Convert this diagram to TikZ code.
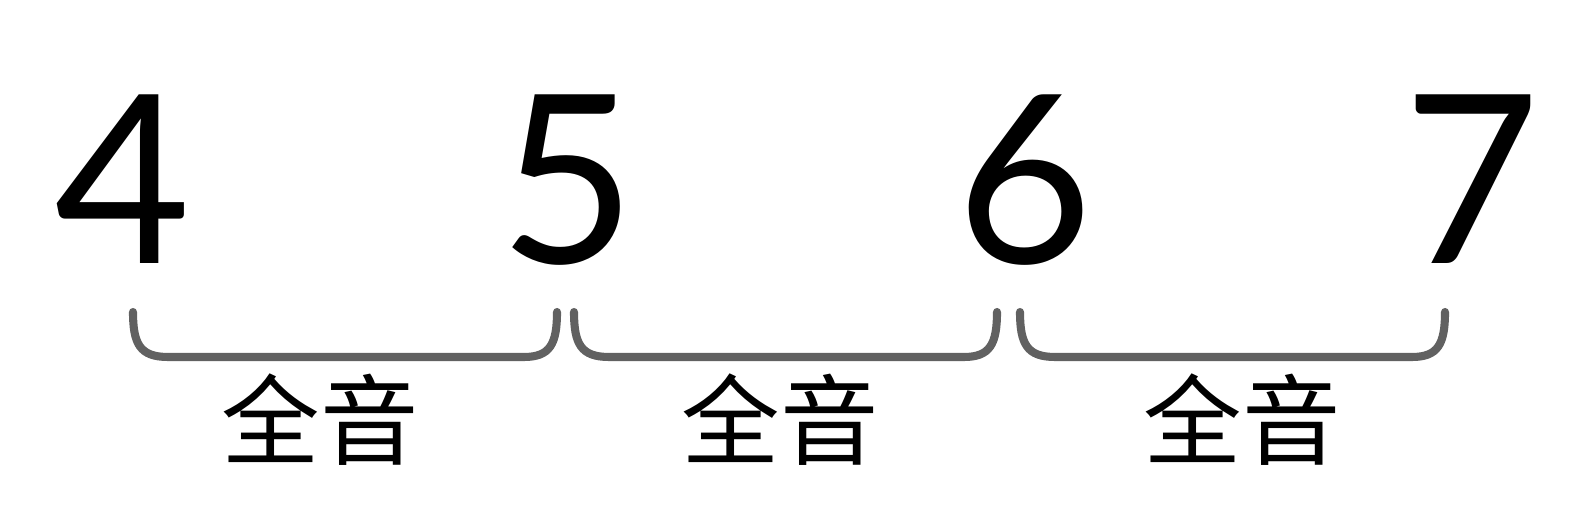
\documentclass[tikz,border=0pt]{standalone}
\usepackage{fontspec}
\newfontfamily\digitfont{Lato}
\newfontfamily\cjk{Noto Sans CJK SC}
\begin{document}
\begin{tikzpicture}[line cap=round,
  degree/.style={font=\digitfont\fontsize{67}{67}\selectfont,anchor=base,inner sep=0pt},
  interval/.style={draw=black!62,line width=2.3pt},
  step label/.style={font=\cjk\fontsize{28}{28}\selectfont,inner sep=0pt}]
\useasboundingbox (0,0) rectangle (15.79,5.26);

% scale degrees
\node [degree] (d4) at (1.23,2.62) {4};
\node [degree] (d5) at (5.68,2.62) {5};
\node [degree] (d6) at (10.25,2.62) {6};
\node [degree] (d7) at (14.72,2.62) {7};

% whole steps
\draw [interval] (1.33,2.14) .. controls (1.33,1.82) and (1.40,1.69) .. (1.68,1.69)
  -- (5.24,1.69) .. controls (5.50,1.69) and (5.57,1.82) .. (5.57,2.14);
\draw [interval] (5.74,2.14) .. controls (5.74,1.82) and (5.81,1.69) .. (6.09,1.69)
  -- (9.64,1.69) .. controls (9.90,1.69) and (9.97,1.82) .. (9.97,2.14);
\draw [interval] (10.20,2.14) .. controls (10.20,1.82) and (10.27,1.69) .. (10.55,1.69)
  -- (14.12,1.69) .. controls (14.38,1.69) and (14.45,1.82) .. (14.45,2.14);

\node [step label] (w45) at (3.20,1.06) {全音};
\node [step label] (w56) at (7.80,1.06) {全音};
\node [step label] (w67) at (12.42,1.06) {全音};
\end{tikzpicture}
\end{document}
